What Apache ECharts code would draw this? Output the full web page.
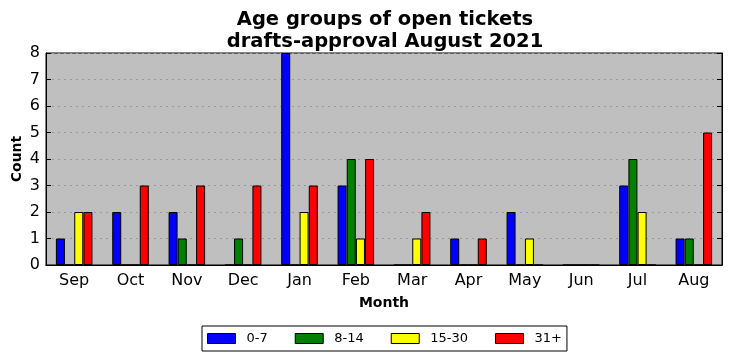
<!DOCTYPE html>
<html><head><meta charset="utf-8">
<script src="https://cdn.jsdelivr.net/npm/echarts@6/dist/echarts.min.js"></script>
<style>html,body{margin:0;padding:0;background:#fff}#c{width:732px;height:361px}</style>
</head><body><div id="c"></div>
<script>
const months = ['Sep','Oct','Nov','Dec','Jan','Feb','Mar','Apr','May','Jun','Jul','Aug'];
const seriesNames = ['0-7','8-14','15-30','31+'];
const v0_7   = [1,2,2,0,8,3,0,1,2,0,3,1];
const v8_14  = [0,0,1,1,0,4,0,0,0,0,4,1];
const v15_30 = [2,0,0,0,2,1,1,0,1,0,2,0];
const v31    = [2,3,3,3,3,4,2,1,0,0,0,5];
const colors = ['#0000ff','#008000','#ffff00','#ff0000'];
const yTicks = [0,1,2,3,4,5,6,7,8];
const FONT = 'DejaVu Sans';
const values = [v0_7, v8_14, v15_30, v31];

const chart = echarts.init(document.getElementById('c'));
chart.setOption({
  animation:false,
  backgroundColor:'#fff',
  textStyle:{fontFamily:FONT},
  title:{
    text:'Age groups of open tickets\ndrafts-approval August 2021',
    left:380, top:4, textAlign:'center',
    textStyle:{fontFamily:FONT,fontSize:19.5,fontWeight:'bold',color:'#000',lineHeight:22}
  },
  legend:{
    bottom:10, left:202,
    data:seriesNames,
    icon:'rect',
    itemWidth:28, itemHeight:10, itemGap:27,
    borderColor:'#000', borderWidth:1, borderRadius:0,
    padding:[6,5,6,5],
    textStyle:{fontFamily:FONT,fontSize:13,color:'#000',padding:[0,0,0,6]},
    itemStyle:{borderColor:'#000',borderWidth:1}
  },
  grid:{left:46,right:10,top:53,bottom:96,outerBoundsMode:'none',containLabel:false,show:true,backgroundColor:'#bfbfbf',borderColor:'#000',borderWidth:1},
  xAxis:[{
    type:'category', data:months, boundaryGap:true,
    name:'Month', nameLocation:'middle', nameGap:31, nameMoveOverlap:false,
    nameTextStyle:{fontFamily:FONT,fontSize:14,fontWeight:'bold',color:'#000'},
    axisLine:{lineStyle:{color:'#000'}},
    axisTick:{alignWithLabel:true,inside:true,length:5,lineStyle:{color:'#000'}},
    axisLabel:{fontFamily:FONT,fontSize:16,color:'#000',margin:8},
    splitLine:{show:false}
  },{
    type:'category', data:months, position:'top', boundaryGap:true,
    axisLine:{lineStyle:{color:'#000'}},
    axisTick:{alignWithLabel:true,inside:true,length:5,lineStyle:{color:'#000'}},
    axisLabel:{show:false}, splitLine:{show:false}
  }],
  yAxis:[{
    type:'value', min:0, max:8, interval:1,
    name:'Count', nameLocation:'middle', nameGap:22, nameMoveOverlap:false,
    nameTextStyle:{fontFamily:FONT,fontSize:14,fontWeight:'bold',color:'#000'},
    axisLine:{show:true,lineStyle:{color:'#000'}},
    axisTick:{show:true,inside:true,length:5,lineStyle:{color:'#000'}},
    axisLabel:{fontFamily:FONT,fontSize:16,color:'#000',margin:6,formatter:v=>yTicks.includes(v)?String(v):''},
    splitLine:{show:true,lineStyle:{color:'#999',type:[2,4],width:1}}
  },{
    type:'value', min:0, max:8, interval:1, position:'right',
    axisLine:{show:true,lineStyle:{color:'#000'}},
    axisTick:{show:true,inside:true,length:5,lineStyle:{color:'#000'}},
    axisLabel:{show:false}, splitLine:{show:false}
  }],
  series: seriesNames.map((n,i)=>({
    name:n, type:'bar', xAxisIndex:0, yAxisIndex:0,
    data: values[i],
    barWidth:9, barGap:'2%',
    itemStyle:{color:colors[i],borderColor:'#000',borderWidth:1}
  }))
});
</script></body></html>
